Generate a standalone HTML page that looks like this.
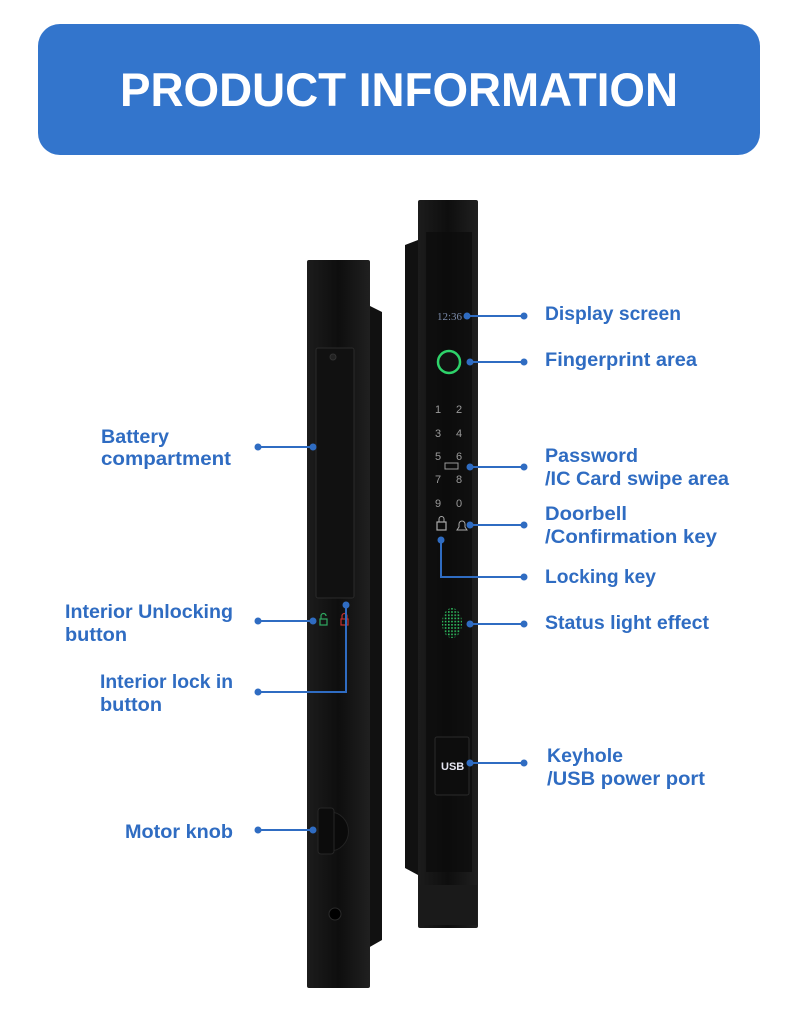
<!DOCTYPE html>
<html><head><meta charset="utf-8"><style>
html,body{margin:0;padding:0;background:#fff;width:790px;height:1026px;overflow:hidden}
svg{display:block}
.t{font-family:"Liberation Sans",sans-serif;font-weight:bold;font-size:19px;fill:#2f6cc2}
.k{font-family:"Liberation Sans",sans-serif;font-size:11px;fill:#9a9a9a}
</style></head><body>
<svg width="790" height="1026" viewBox="0 0 790 1026">
<defs>
<linearGradient id="face" x1="0" x2="1"><stop offset="0" stop-color="#1c1c1c"/><stop offset="0.5" stop-color="#0e0e0e"/><stop offset="1" stop-color="#202020"/></linearGradient>
<pattern id="dots" width="3.2" height="3.2" patternUnits="userSpaceOnUse"><rect width="1.6" height="1.6" fill="#2fc060"/></pattern>
</defs>
<rect x="38" y="24" width="722" height="131" rx="22" fill="#3375cc"/>
<text x="399" y="106" text-anchor="middle" font-family="Liberation Sans,sans-serif" font-weight="bold" font-size="47" fill="#fff" textLength="558" lengthAdjust="spacingAndGlyphs">PRODUCT INFORMATION</text>

<!-- left lock -->
<polygon points="368,305 382,312 382,940 368,948" fill="#111"/>
<rect x="307" y="260" width="63" height="728" rx="2" fill="url(#face)"/>
<rect x="316" y="348" width="38" height="250" rx="2" fill="#111" stroke="#2a2a2a"/>
<circle cx="333" cy="357" r="3" fill="#222" stroke="#333"/>
<rect x="320" y="619" width="7" height="6" fill="none" stroke="#2fa860" stroke-width="1.2"/>
<path d="M321 619 v-3 a2.5 2.5 0 0 1 5 0" fill="none" stroke="#2fa860" stroke-width="1.2"/>
<rect x="341" y="619" width="7" height="6" fill="none" stroke="#c03030" stroke-width="1.2"/>
<path d="M342 619 v-3 a2.5 2.5 0 0 1 5 0 v3" fill="none" stroke="#c03030" stroke-width="1.2"/>
<path d="M330 812 A18 19 0 0 1 330 851" fill="#0a0a0a" stroke="#222"/>
<rect x="318" y="808" width="16" height="46" rx="3" fill="#0c0c0c" stroke="#262626"/>
<circle cx="335" cy="914" r="6" fill="#000" stroke="#2a2a2a"/>

<!-- right lock -->
<polygon points="405,245 418,240 418,875 405,868" fill="#111"/>
<rect x="418" y="200" width="60" height="728" rx="2" fill="url(#face)"/>
<rect x="426" y="232" width="46" height="640" fill="#0b0b0b" opacity="0.7"/>
<rect x="419" y="885" width="58" height="40" fill="#1a1a1a"/>
<text x="437" y="320" font-family="Liberation Serif,serif" font-size="11" fill="#7a8aa8">12:36</text>
<circle cx="449" cy="362" r="11" fill="#111" stroke="#2ed36a" stroke-width="2.5"/>
<g class="k">
<text x="435" y="413">1</text><text x="456" y="413">2</text>
<text x="435" y="437">3</text><text x="456" y="437">4</text>
<text x="435" y="460">5</text><text x="456" y="460">6</text>
<text x="435" y="483">7</text><text x="456" y="483">8</text>
<text x="435" y="507">9</text><text x="456" y="507">0</text>
</g>
<rect x="445" y="463" width="13" height="6" fill="none" stroke="#999" stroke-width="1"/>
<rect x="437" y="522" width="9" height="8" fill="none" stroke="#aaa" stroke-width="1.2"/>
<path d="M439 522 v-3 a2.5 2.5 0 0 1 5 0 v3" fill="none" stroke="#aaa"/>
<path d="M457 530 h10 l-2 -3 v-3 a3 3 0 0 0 -6 0 v3 z" fill="none" stroke="#aaa"/>
<ellipse cx="452" cy="623" rx="10" ry="15" fill="url(#dots)"/>
<rect x="435" y="737" width="34" height="58" rx="2" fill="#0d0d0d" stroke="#2a2a2a"/>
<text x="441" y="770" font-family="Liberation Sans,sans-serif" font-weight="bold" font-size="11" fill="#e6e6f2">USB</text>

<!-- connectors -->
<g stroke="#2f6cc2" stroke-width="2" fill="none">
<path d="M467 316H524"/><path d="M470 362H524"/><path d="M470 467H524"/><path d="M470 525H524"/>
<path d="M441 540V577H524"/><path d="M470 624H524"/><path d="M470 763H524"/>
<path d="M258 447H313"/><path d="M258 621H313"/><path d="M258 692H346V605"/><path d="M258 830H313"/>
</g>
<g fill="#2f6cc2">
<circle cx="467" cy="316" r="3.5"/><circle cx="524" cy="316" r="3.5"/>
<circle cx="470" cy="362" r="3.5"/><circle cx="524" cy="362" r="3.5"/>
<circle cx="470" cy="467" r="3.5"/><circle cx="524" cy="467" r="3.5"/>
<circle cx="470" cy="525" r="3.5"/><circle cx="524" cy="525" r="3.5"/>
<circle cx="441" cy="540" r="3.5"/><circle cx="524" cy="577" r="3.5"/>
<circle cx="470" cy="624" r="3.5"/><circle cx="524" cy="624" r="3.5"/>
<circle cx="470" cy="763" r="3.5"/><circle cx="524" cy="763" r="3.5"/>
<circle cx="258" cy="447" r="3.5"/><circle cx="313" cy="447" r="3.5"/>
<circle cx="258" cy="621" r="3.5"/><circle cx="313" cy="621" r="3.5"/>
<circle cx="258" cy="692" r="3.5"/><circle cx="346" cy="605" r="3.5"/>
<circle cx="258" cy="830" r="3.5"/><circle cx="313" cy="830" r="3.5"/>
</g>

<!-- labels -->
<text class="t" x="545" y="320" textLength="136" lengthAdjust="spacingAndGlyphs">Display screen</text>
<text class="t" x="545" y="366" textLength="152" lengthAdjust="spacingAndGlyphs">Fingerprint area</text>
<text class="t" x="545" y="462" textLength="93" lengthAdjust="spacingAndGlyphs">Password</text>
<text class="t" x="545" y="485" textLength="184" lengthAdjust="spacingAndGlyphs">/IC Card swipe area</text>
<text class="t" x="545" y="520" textLength="82" lengthAdjust="spacingAndGlyphs">Doorbell</text>
<text class="t" x="545" y="543" textLength="172" lengthAdjust="spacingAndGlyphs">/Confirmation key</text>
<text class="t" x="545" y="583" textLength="111" lengthAdjust="spacingAndGlyphs">Locking key</text>
<text class="t" x="545" y="629" textLength="164" lengthAdjust="spacingAndGlyphs">Status light effect</text>
<text class="t" x="547" y="762" textLength="76" lengthAdjust="spacingAndGlyphs">Keyhole</text>
<text class="t" x="547" y="785" textLength="158" lengthAdjust="spacingAndGlyphs">/USB power port</text>
<text class="t" x="101" y="443" textLength="68" lengthAdjust="spacingAndGlyphs">Battery</text>
<text class="t" x="101" y="465" textLength="130" lengthAdjust="spacingAndGlyphs">compartment</text>
<text class="t" x="65" y="618" textLength="168" lengthAdjust="spacingAndGlyphs">Interior Unlocking</text>
<text class="t" x="65" y="641" textLength="62" lengthAdjust="spacingAndGlyphs">button</text>
<text class="t" x="100" y="688" textLength="133" lengthAdjust="spacingAndGlyphs">Interior lock in</text>
<text class="t" x="100" y="711" textLength="62" lengthAdjust="spacingAndGlyphs">button</text>
<text class="t" x="125" y="838" textLength="108" lengthAdjust="spacingAndGlyphs">Motor knob</text>
</svg>
</body></html>
